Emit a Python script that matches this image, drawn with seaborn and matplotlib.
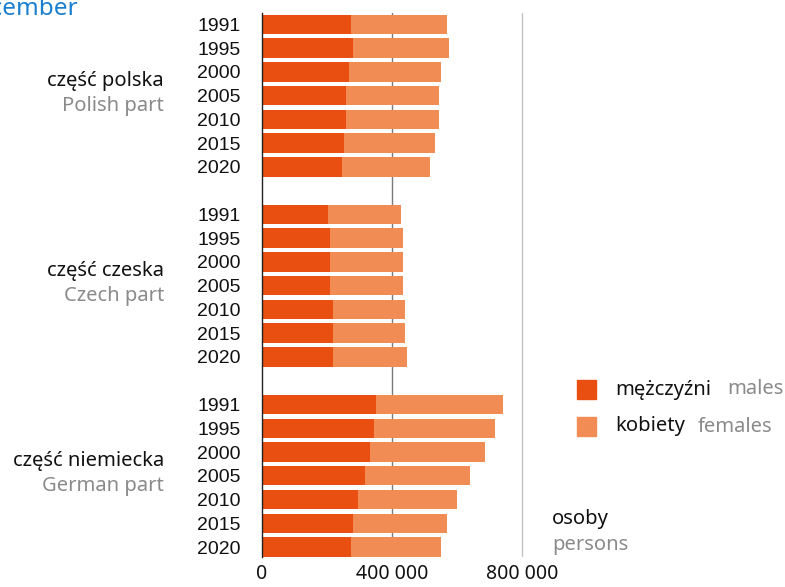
import pandas as pd
import matplotlib
import matplotlib.pyplot as plt
import seaborn as sns
from matplotlib.patches import Rectangle
from matplotlib.transforms import blended_transform_factory

matplotlib.use('Agg')

years = ['1991', '1995', '2000', '2005', '2010', '2015', '2020']
parts_pl = ['część polska', 'część czeska', 'część niemiecka']
parts_en = ['Polish part', 'Czech part', 'German part']

# osoby
males_pl = [274000, 280000, 268000, 260000, 260000, 254000, 248000]
females_pl = [295000, 295000, 283000, 285000, 285000, 278000, 271000]
males_cz = [205000, 211000, 211000, 211000, 218000, 218000, 218000]
females_cz = [223000, 223000, 223000, 223000, 222000, 222000, 228000]
males_de = [353000, 346000, 334000, 317000, 297000, 280000, 274000]
females_de = [389000, 371000, 352000, 325000, 303000, 289000, 277000]

MALE = '#e84f10'
FEMALE = '#f28c55'
GREY = '#8a8a8a'
W, H = 785, 587
FS = 14.5

rows = []
for g, (m, f) in enumerate([(males_pl, females_pl), (males_cz, females_cz), (males_de, females_de)]):
    for i, year in enumerate(years):
        rows.append({'pos': g * 8 + i, 'year': year, 'males': m[i], 'females': f[i]})
df = pd.DataFrame(rows)
df['total'] = df['males'] + df['females']

sns.set_style('white')
plt.rcParams['font.family'] = ['Noto Sans', 'DejaVu Sans']

fig = plt.figure(figsize=(W / 100, H / 100), dpi=100)
ax = fig.add_axes([261.7 / W, 30 / H, 276.3 / W, 544 / H])

sns.barplot(data=df, x='total', y='pos', orient='h', native_scale=True, color=FEMALE,
            saturation=1, width=0.82, edgecolor='none', ax=ax, zorder=2)
sns.barplot(data=df, x='males', y='pos', orient='h', native_scale=True, color=MALE,
            saturation=1, width=0.82, edgecolor='none', ax=ax, zorder=3)

ax.set_xlim(0, 850000)
ax.set_ylim(22.42, -0.48)
ax.axvline(400000, color='#7a7a7a', lw=1, zorder=1)
ax.axvline(800000, color='#c4c4c4', lw=1, zorder=1)

for side in ['top', 'right', 'bottom']:
    ax.spines[side].set_visible(False)
ax.spines['left'].set_color('#222222')
ax.spines['left'].set_linewidth(1)
ax.spines['left'].set_zorder(4)

ax.set_yticks(df['pos'])
ax.set_yticklabels(df['year'], fontfamily='Liberation Sans', fontsize=14, color='#111111')
ax.set_xticks([0, 400000, 800000])
ax.set_xticklabels(['0', '400 000', '800 000'], fontsize=14, color='#111111')
ax.tick_params(axis='y', length=0, pad=15)
ax.tick_params(axis='x', length=0, pad=5)
ax.set_xlabel('')
ax.set_ylabel('')

tr = blended_transform_factory(fig.transFigure, ax.transData)
for g in range(3):
    mid = g * 8 + 3
    ax.text(164 / W, mid - 0.62, parts_pl[g], transform=tr, ha='right', va='center',
            fontsize=FS, color='#111111')
    ax.text(164 / W, mid + 0.45, parts_en[g], transform=tr, ha='right', va='center',
            fontsize=FS, color=GREY)

# legenda
for y0, color, pl, en, en_x in [(380, MALE, 'mężczyźni', 'males', 727),
                                 (417, FEMALE, 'kobiety', 'females', 698)]:
    fig.patches.append(Rectangle((577 / W, 1 - (y0 + 19) / H), 19 / W, 19 / H,
                                 transform=fig.transFigure, color=color))
    fig.text(615 / W, 1 - (y0 + 9.5) / H, pl, ha='left', va='center', fontsize=FS, color='#111111')
    fig.text(en_x / W, 1 - (y0 + 9.5) / H, en, ha='left', va='center', fontsize=FS, color=GREY)

fig.text(552 / W, 1 - 519 / H, 'osoby', ha='left', va='center', fontsize=FS, color='#111111')
fig.text(552 / W, 1 - 545 / H, 'persons', ha='left', va='center', fontsize=FS, color=GREY)

fig.text(78 / W, 1 - 9 / H, 'December', ha='right', va='center', fontsize=17.5, color='#1a7fce')

fig.savefig('out.png', dpi=100)
